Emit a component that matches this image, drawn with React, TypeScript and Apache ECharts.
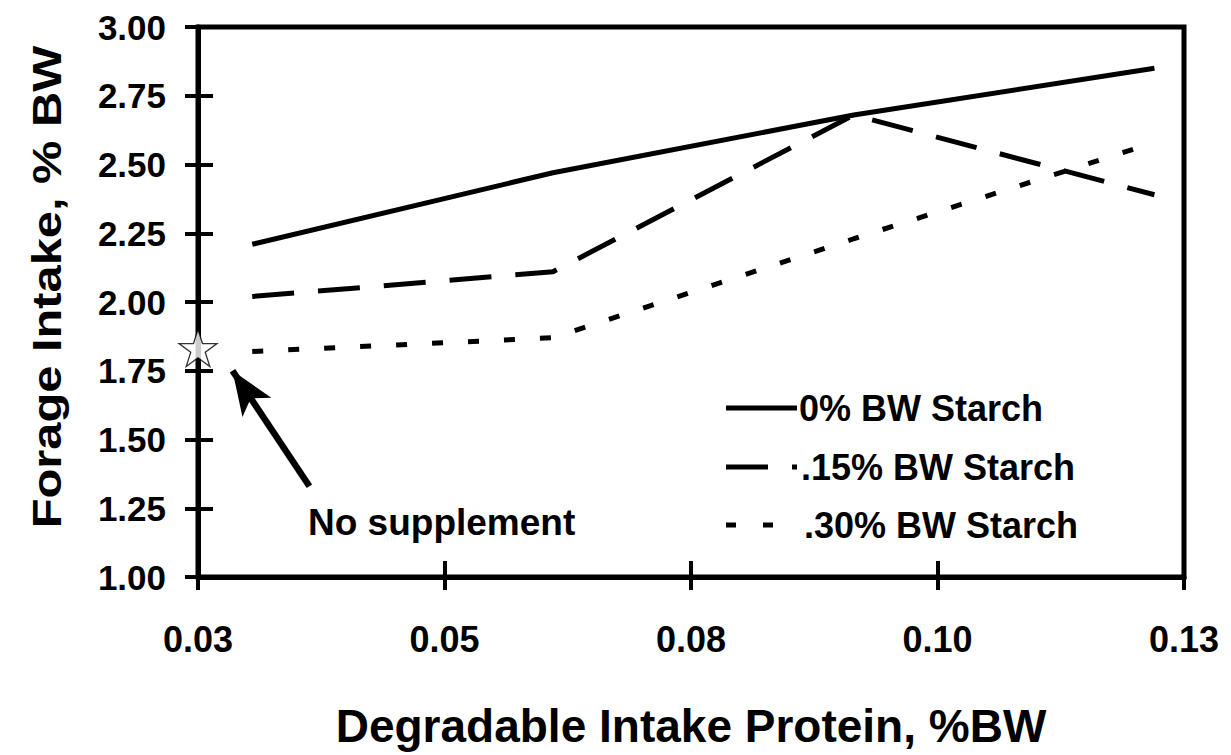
import React, { useEffect, useRef } from 'react';
import * as echarts from 'echarts';

// ---- data ----
const xValues = [0.0305, 0.061, 0.0915, 0.122];
const starch0 = [2.21, 2.47, 2.68, 2.85];
const starch15 = [2.02, 2.11, 2.68, 2.39];
const starch30 = [1.82, 1.87, 2.23, 2.58];
const seriesNames = ['0% BW Starch', '.15% BW Starch', '.30% BW Starch'];
const noSupplement = [0.025, 1.833];
const arrowFrom = [0.0363, 1.33];
const arrowTo = [0.0285, 1.75];
const xTickValues = [0.025, 0.05, 0.075, 0.1, 0.125];
const xTickLabels = ['0.03', '0.05', '0.08', '0.10', '0.13'];
const yTickLabels = ['1.00', '1.25', '1.50', '1.75', '2.00', '2.25', '2.50', '2.75', '3.00'];
const xTitle = 'Degradable Intake Protein, %BW';
const yTitle = 'Forage Intake, % BW';
const annotation = 'No supplement';

const FONT = '"Liberation Sans", Arial, Helvetica, sans-serif';
const STAR =
  'path://M50 0 L61.23 34.55 L97.55 34.55 L68.17 55.9 L79.39 90.45 L50 69.1 L20.61 90.45 L31.83 55.9 L2.45 34.55 L38.77 34.55 Z';
const seriesDash: (number[] | null)[] = [null, [42, 24], [11, 25]];
const legendDash: (number[] | null)[] = [null, [42, 24], [10, 27]];

const pair = (xs: number[], ys: number[]) => xs.map((x, i) => [x, ys[i]]);

export default function App() {
  const ref = useRef<HTMLDivElement>(null);
  useEffect(() => {
    if (!ref.current) return;
    const chart = echarts.init(ref.current, undefined, { renderer: 'svg' });
    const gridBox = { left: 198, right: 47, top: 27, bottom: 178 };
    const xLabel = (v: number) => {
      const i = xTickValues.findIndex((t) => Math.abs(t - v) < 1e-6);
      return i >= 0 ? xTickLabels[i] : '';
    };
    const yLabel = (v: number) => {
      const i = Math.round((v - 1) / 0.25);
      return yTickLabels[i] ?? '';
    };
    const legendRows = [408, 467, 525];
    const legendTextX = [799, 801, 804];
    const legendLineEnd = [797, 797, 776];
    const legendGraphics: any[] = [];
    seriesNames.forEach((name, i) => {
      legendGraphics.push({
        type: 'line',
        shape: { x1: 726, y1: legendRows[i], x2: legendLineEnd[i], y2: legendRows[i] },
        style: { stroke: '#000', lineWidth: 5, lineDash: legendDash[i] ?? undefined },
      });
      legendGraphics.push({
        type: 'text', x: legendTextX[i], y: legendRows[i],
        style: { text: name, font: `bold 36px ${FONT}`, fill: '#000', verticalAlign: 'middle' },
      });
    });
    const option: any = {
      animation: false,
      backgroundColor: '#fff',
      grid: [
        { ...gridBox, show: true, borderColor: '#000', borderWidth: 5, backgroundColor: 'transparent' },
        { ...gridBox, show: false },
      ],
      xAxis: [
        {
          type: 'value', gridIndex: 0, min: 0.025, max: 0.125, interval: 0.025,
          axisLine: { show: true, lineStyle: { color: '#000', width: 5 } },
          axisTick: { show: true, inside: false, length: 13, lineStyle: { color: '#000', width: 4 } },
          splitLine: { show: false },
          axisLabel: { formatter: xLabel, fontSize: 36, fontWeight: 'bold', color: '#000', fontFamily: FONT, margin: 44 },
          name: xTitle, nameLocation: 'middle', nameGap: 126,
          nameTextStyle: { fontSize: 46, fontWeight: 'bold', color: '#000', fontFamily: FONT },
        },
        {
          type: 'value', gridIndex: 1, min: 0.025, max: 0.125, interval: 0.025,
          axisLine: { show: false },
          axisTick: { show: true, inside: true, length: 16, lineStyle: { color: '#000', width: 4 } },
          splitLine: { show: false }, axisLabel: { show: false },
        },
      ],
      yAxis: [
        {
          type: 'value', gridIndex: 0, min: 1, max: 3, interval: 0.25,
          axisLine: { show: true, lineStyle: { color: '#000', width: 5 } },
          axisTick: { show: true, inside: false, length: 13, lineStyle: { color: '#000', width: 4 } },
          splitLine: { show: false },
          axisLabel: { formatter: yLabel, fontSize: 35, fontWeight: 'bold', color: '#000', fontFamily: FONT, margin: 32 },
        },
        {
          type: 'value', gridIndex: 1, min: 1, max: 3, interval: 0.25,
          axisLine: { show: false },
          axisTick: { show: true, inside: true, length: 15, lineStyle: { color: '#000', width: 4 } },
          splitLine: { show: false }, axisLabel: { show: false },
        },
      ],
      graphic: [
        {
          type: 'text', x: 47, y: 287, rotation: Math.PI / 2, scaleX: 1.22, scaleY: 1,
          style: { text: yTitle, font: `bold 40px ${FONT}`, fill: '#000', align: 'center', verticalAlign: 'middle' },
        },
        {
          type: 'text', x: 308, y: 522,
          style: { text: annotation, font: `bold 37px ${FONT}`, fill: '#000', verticalAlign: 'middle' },
        },
        ...legendGraphics,
      ],
      series: [
        ...seriesNames.map((name, i) => ({
          name, type: 'line', data: pair(xValues, [starch0, starch15, starch30][i]),
          symbol: 'none', showSymbol: false,
          lineStyle: { color: '#000', width: 5, type: seriesDash[i] ?? 'solid' }, itemStyle: { color: '#000' },
        })),
        {
          name: annotation, type: 'scatter', data: [noSupplement], symbol: STAR, symbolSize: [38, 37],
          itemStyle: { color: '#fff', borderColor: '#000', borderWidth: 1.3 }, z: 5, clip: false,
          markLine: {
            silent: true, symbol: ['none', 'arrow'], symbolSize: [26, 44],
            lineStyle: { color: '#000', width: 6.5, type: 'solid' },
            label: { show: false },
            data: [[{ coord: arrowFrom }, { coord: arrowTo }]],
          },
        },
      ],
    };
    chart.setOption(option);
    return () => chart.dispose();
  }, []);
  return (
    <div
      ref={ref}
      style={{ position: 'fixed', left: 0, top: 0, width: 1231, height: 755, background: '#fff' }}
    />
  );
}
